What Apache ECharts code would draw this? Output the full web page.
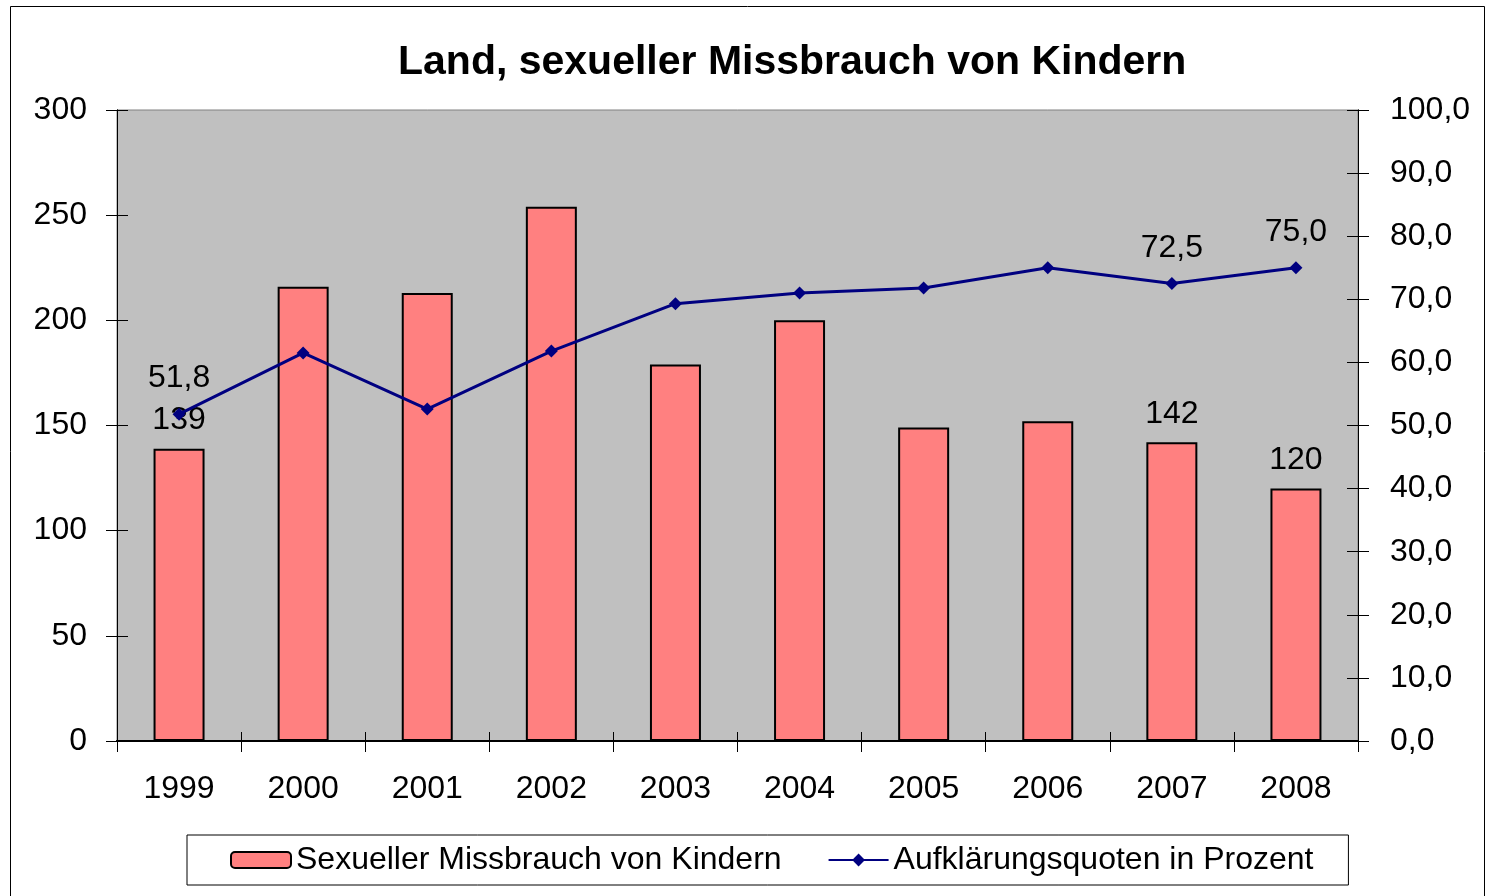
<!DOCTYPE html>
<html><head><meta charset="utf-8">
<script src="https://cdn.jsdelivr.net/npm/echarts@6/dist/echarts.min.js"></script>
<style>html,body{margin:0;padding:0;background:#fff}#c{width:1490px;height:896px}</style>
</head><body><div id="c"></div>
<script>
const years = ['1999','2000','2001','2002','2003','2004','2005','2006','2007','2008'];
const cases = [139, 216, 213, 254, 179, 200, 149, 152, 142, 120];
const rates = [51.8, 61.5, 52.6, 61.8, 69.3, 71.0, 71.8, 75.0, 72.5, 75.0];
const labelledYears = ['1999', '2007', '2008'];
const leftTicks = [0, 300, 50];
const rightTicks = [0, 100, 10];

const FONT = 'Liberation Sans, Arial, sans-serif';
const FS = 32;
const chart = echarts.init(document.getElementById('c'), null, {renderer: 'canvas'});

const barData = cases.map((v, i) => ({
  value: v,
  label: {show: labelledYears.includes(years[i])}
}));
const lineData = rates.map((v, i) => ({
  value: v,
  label: {show: labelledYears.includes(years[i])}
}));
const fmt = v => v.toFixed(1).replace('.', ',');

const GRID = {left: 117, right: 132, top: 110, bottom: 155};

const tickOnlyY = (extra) => Object.assign({
  type: 'value', gridIndex: 1, z: 5,
  axisLine: {show: true, lineStyle: {color: '#000'}},
  axisTick: {show: true, inside: true, length: 11, lineStyle: {color: '#000', width: 1}},
  axisLabel: {show: false},
  splitLine: {show: false}
}, extra);

// invisible helper series so that the tick-only axes of the overlay grid are rendered
const ghost = (yIdx, data) => ({
  type: 'line', xAxisIndex: 1, yAxisIndex: yIdx, data: data,
  symbol: 'none', silent: true, lineStyle: {opacity: 0}, tooltip: {show: false}, z: 0
});

chart.setOption({
  backgroundColor: '#ffffff',
  animation: false,
  title: {
    text: 'Land, sexueller Missbrauch von Kindern',
    left: 393, top: 37,
    textStyle: {fontFamily: FONT, fontWeight: 'bold', fontSize: 41, color: '#000'}
  },
  graphic: [{
    type: 'rect', shape: {x: 10.5, y: 6.5, width: 1474, height: 900},
    style: {fill: 'none', stroke: '#000', lineWidth: 1}, silent: true, z: 0
  }],
  grid: [
    Object.assign({show: true, backgroundColor: '#c0c0c0', borderColor: '#808080', borderWidth: 1, z: 0}, GRID),
    Object.assign({show: false}, GRID)
  ],
  legend: {
    bottom: 11, left: 187, width: 1161,
    itemGap: 46, itemWidth: 60, itemHeight: 16,
    padding: [9, 35, 9, 43],
    borderColor: '#000', borderWidth: 1,
    textStyle: {fontFamily: FONT, fontSize: FS, color: '#000'},
    data: ['Sexueller Missbrauch von Kindern', 'Aufklärungsquoten in Prozent']
  },
  xAxis: [{
    type: 'category', data: years, gridIndex: 0,
    axisLine: {lineStyle: {color: '#000', width: 2}},
    axisTick: {show: true, inside: false, length: 11, alignWithLabel: false, lineStyle: {color: '#000'}},
    axisLabel: {fontFamily: FONT, fontSize: FS, color: '#000', margin: 32},
    splitLine: {show: false}
  }, {
    type: 'category', data: years, gridIndex: 1, position: 'bottom', z: 5,
    axisLine: {show: true, lineStyle: {color: '#000', width: 2}},
    axisTick: {show: true, inside: true, length: 9, alignWithLabel: false, lineStyle: {color: '#000'}},
    axisLabel: {show: false},
    splitLine: {show: false}
  }],
  yAxis: [{
    type: 'value', gridIndex: 0, min: leftTicks[0], max: leftTicks[1], interval: leftTicks[2],
    position: 'left',
    axisLine: {show: true, lineStyle: {color: '#000'}},
    axisTick: {show: true, length: 11, lineStyle: {color: '#000'}},
    axisLabel: {fontFamily: FONT, fontSize: FS, color: '#000', margin: 30},
    splitLine: {show: false}
  }, {
    type: 'value', gridIndex: 0, min: rightTicks[0], max: rightTicks[1], interval: rightTicks[2],
    position: 'right',
    axisLine: {show: true, lineStyle: {color: '#000'}},
    axisTick: {show: true, length: 11, lineStyle: {color: '#000'}},
    axisLabel: {fontFamily: FONT, fontSize: FS, color: '#000', margin: 32, formatter: fmt},
    splitLine: {show: false}
  },
  tickOnlyY({min: leftTicks[0], max: leftTicks[1], interval: leftTicks[2], position: 'left'}),
  tickOnlyY({min: rightTicks[0], max: rightTicks[1], interval: rightTicks[2], position: 'right'})
  ],
  series: [{
    name: 'Sexueller Missbrauch von Kindern',
    type: 'bar', xAxisIndex: 0, yAxisIndex: 0, data: barData, barWidth: 51,
    itemStyle: {color: '#ff8080', borderColor: '#000', borderWidth: 2},
    label: {position: 'top', distance: 12, fontFamily: FONT, fontSize: FS, color: '#000'}
  }, {
    name: 'Aufklärungsquoten in Prozent',
    type: 'line', xAxisIndex: 0, yAxisIndex: 1, data: lineData,
    symbol: 'diamond', symbolSize: 13,
    lineStyle: {color: '#000080', width: 3},
    itemStyle: {color: '#000080'},
    label: {position: 'top', distance: 13, fontFamily: FONT, fontSize: FS, color: '#000',
      formatter: p => fmt(p.value)}
  },
  ghost(2, cases),
  ghost(3, rates)
  ]
});
</script></body></html>
